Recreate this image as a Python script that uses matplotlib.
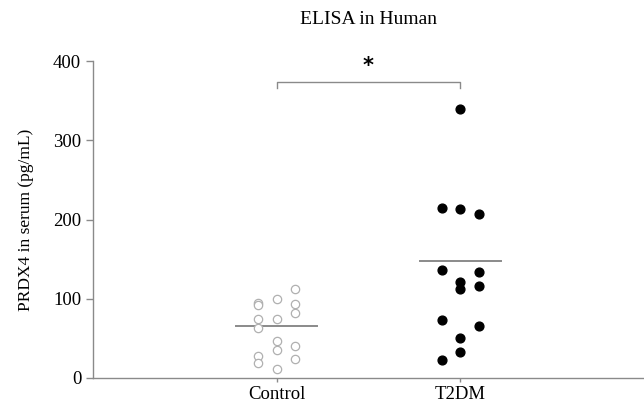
import matplotlib
matplotlib.use("Agg")
import matplotlib.pyplot as plt

plt.rcParams['font.family'] = ['Liberation Serif', 'DejaVu Serif']

categories = ["Control", "T2DM"]
control_values = [112, 100, 95, 92, 93, 82, 74, 74, 63, 47, 35, 41, 28, 19, 24, 11]
control_offsets = [1, 0, -1, -1, 1, 1, -1, 0, -1, 0, 0, 1, -1, -1, 1, 0]
t2dm_values = [340, 215, 213, 207, 136, 134, 121, 112, 116, 73, 66, 50, 33, 23]
t2dm_offsets = [0, -1, 0, 1, -1, 1, 0, 0, 1, -1, 1, 0, 0, -1]
group_means = [65, 148]
yticks = [0, 100, 200, 300, 400]
bracket_y = 374
bracket_tail = 366

grey = "#8a8a8a"
step = 0.1

fig = plt.figure(figsize=(6.44, 4.03), dpi=100)
ax = fig.add_axes([93/644, 25/403, (644-93)/644, 317/403])

pos = [1, 2]
ax.scatter([pos[0] + o*step for o in control_offsets], control_values, s=36,
           facecolors='white', edgecolors='#b0b0b0', linewidths=0.9, zorder=3)
ax.scatter([pos[1] + o*step for o in t2dm_offsets], t2dm_values, s=40,
           color='black', zorder=3)
for p, m in zip(pos, group_means):
    ax.plot([p - 0.22, p + 0.22], [m, m], color=grey, lw=1.4, zorder=2)

ax.plot([pos[0], pos[0], pos[1], pos[1]], [bracket_tail, bracket_y, bracket_y, bracket_tail],
        color=grey, lw=1.0)
ax.text((pos[0]+pos[1])/2, bracket_y + 7, "*", ha='center', va='bottom', fontsize=15,
        family='DejaVu Sans', fontweight='bold')

ax.set_xlim(0, 3)
ax.set_ylim(0, 400)
ax.set_yticks(yticks)
ax.set_xticks(pos)
ax.set_xticklabels(categories, fontsize=13.5)
ax.tick_params(axis='y', labelsize=13.5, color=grey, length=5, width=1, direction='out')
ax.tick_params(axis='x', color=grey, length=3, width=1, direction='out', pad=3)
for s in ['top', 'right']:
    ax.spines[s].set_visible(False)
for s in ['left', 'bottom']:
    ax.spines[s].set_color(grey)
    ax.spines[s].set_linewidth(1.0)
ax.set_ylabel("PRDX4 in serum (pg/mL)", fontsize=12.5, labelpad=14)
fig.text((93+644)/2/644, 1 - 20/403, "ELISA in Human", ha='center', va='center', fontsize=14)

fig.savefig("out.png", dpi=100)
